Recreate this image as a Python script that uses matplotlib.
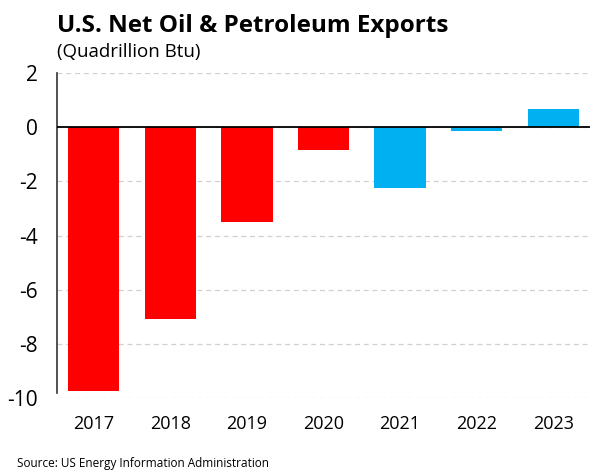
import matplotlib
matplotlib.use("Agg")
import matplotlib.pyplot as plt

years = ["2017", "2018", "2019", "2020", "2021", "2022", "2023"]
net_exports = [-9.75, -7.08, -3.5, -0.85, -2.25, -0.13, 0.66]
bar_colors = ["#FF0000", "#FF0000", "#FF0000", "#FF0000", "#00B0F0", "#00B0F0", "#00B0F0"]
y_ticks = [2, 0, -2, -4, -6, -8, -10]

plt.rcParams['font.family'] = ['Open Sans', 'DejaVu Sans']

fig = plt.figure(figsize=(6.14, 4.74), dpi=100)
ax = fig.add_axes([57 / 614, 1 - 398 / 474, (590 - 57) / 614, (398 - 73) / 474])

x = list(range(len(years)))
ax.bar(x, net_exports, width=0.67, color=bar_colors, zorder=3)
ax.axhline(0, color='black', linewidth=1.3, zorder=4)

ax.set_ylim(-10, 2)
ax.set_xlim(-0.48, len(years) - 0.52)
ax.set_yticks(y_ticks)
ax.set_yticklabels([str(v) for v in y_ticks], fontsize=15)
ax.set_xticks(x)
ax.set_xticklabels(years, fontsize=13)
ax.tick_params(axis='y', length=0, pad=14)
ax.tick_params(axis='x', length=0, pad=12)
ax.grid(axis='y', linestyle=(0, (4, 3)), color='#D0D0D0', linewidth=0.9, zorder=0)

for s in ['top', 'right', 'bottom']:
    ax.spines[s].set_visible(False)
ax.spines['left'].set_color('#333333')
ax.spines['left'].set_linewidth(1.2)
ax.spines['left'].set_bounds(-9.8, 2)

fig.text(57 / 614, 1 - 26 / 474, "U.S. Net Oil & Petroleum Exports", fontsize=17.5,
         fontweight='bold', va='center', ha='left')
fig.text(57 / 614, 1 - 52 / 474, "(Quadrillion Btu)", fontsize=13.5, va='center', ha='left')
fig.text(17 / 614, 1 - 463 / 474, "Source: US Energy Information Administration", fontsize=8.5,
         va='center', ha='left')

fig.savefig("out.png", dpi=100)
